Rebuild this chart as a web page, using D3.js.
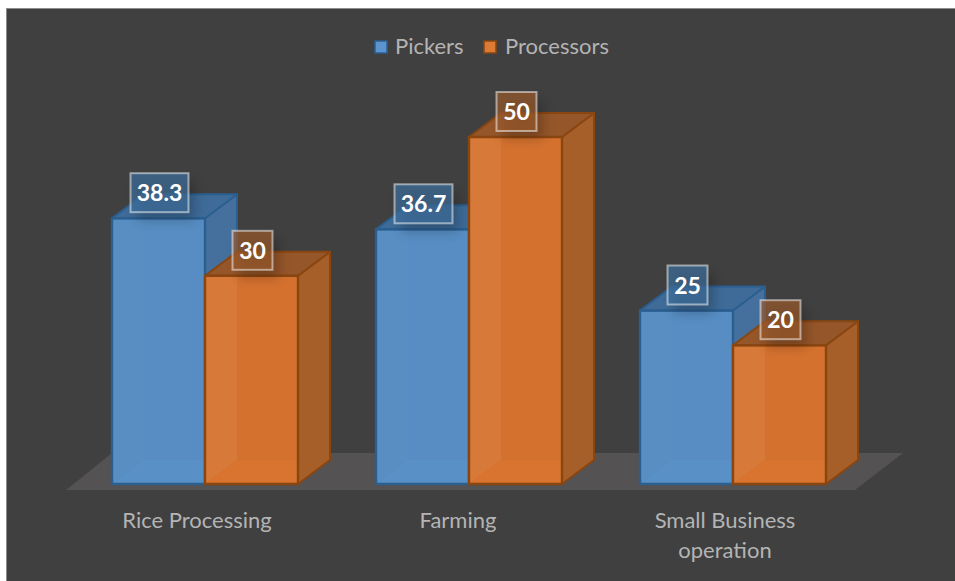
<!DOCTYPE html>
<html>
<head>
<meta charset="utf-8">
<script src="https://cdn.jsdelivr.net/npm/d3@7"></script>
<style>
html,body{margin:0;padding:0;background:#fff;}
svg{display:block;}
text{font-family:Lato,"Open Sans",sans-serif;}
</style>
</head>
<body>
<div id="chart"></div>
<script>
const categories = ["Rice Processing", "Farming", "Small Business operation"];
const seriesNames = ["Pickers", "Processors"];
const pickers = [38.3, 36.7, 25];
const processors = [30, 50, 20];

const W = 955, H = 581;
const depthX = 32, depthY = 24;
const palette = {
  Pickers:    {front:"#578dc3", strip:"#598ec3", floor:"#5990c6", side:"#45709d", top:"#3e6b98", edge:"#2b5f90", box:"#3f6f9c", swatch:"#5b94cf"},
  Processors: {front:"#d4712f", strip:"#d77938", floor:"#d8742f", side:"#a75f29", top:"#95562a", edge:"#8a4610", box:"#9a5a2c", swatch:"#dd7a33"}
};

const svg = d3.select("#chart").append("svg").attr("width", W).attr("height", H);
const defs = svg.append("defs");
defs.append("filter").attr("id","soft").attr("x","-40%").attr("y","-40%").attr("width","180%").attr("height","180%")
  .append("feGaussianBlur").attr("stdDeviation",6);

// Page frame and chart background
svg.append("rect").attr("x",6).attr("y",8).attr("width",W-6).attr("height",H-8).attr("fill","#8c8c8c");
svg.append("rect").attr("x",7).attr("y",9).attr("width",W-7).attr("height",H-9).attr("fill","#404040");

const x0 = d3.scaleBand().domain(categories).range([73,865]).paddingInner(78/264).paddingOuter(39/264);
const x1 = d3.scaleBand().domain(seriesNames).range([0,x0.bandwidth()]);
const y = d3.scaleLinear().domain([0,50]).range([484,137]);
const baseY = y(0);

// Floor of the 3D plot
svg.append("path")
  .attr("d", d3.line()([[66,490],[855,490],[903,453],[112,453]]) + "Z")
  .attr("fill","#545252");

const rows = seriesNames.flatMap((s,i) =>
  categories.map((c,j) => ({series:s, cat:c, value:(i===0?pickers:processors)[j]})));

const pts = a => d3.line()(a) + "Z";

svg.append("g").selectAll("g").data(rows).join("g").each(function(d){
  const g = d3.select(this), p = palette[d.series];
  const l = x0(d.cat) + x1(d.series), r = l + x1.bandwidth(), t = y(d.value), b = baseY;
  // front face
  g.append("path").attr("d",pts([[l,t],[r,t],[r,b],[l,b]])).attr("fill",p.front);
  // the rear corner showing through the translucent front
  g.append("path").attr("d",pts([[l,t],[l+depthX,t],[l+depthX,b-depthY],[l,b]])).attr("fill",p.strip);
  g.append("path").attr("d",pts([[l,b],[l+depthX,b-depthY],[r,b-depthY],[r,b]])).attr("fill",p.floor);
  // side and top faces
  g.append("path").attr("d",pts([[r,t],[r+depthX,t-depthY],[r+depthX,b-depthY],[r,b]]))
    .attr("fill",p.side).attr("stroke",p.edge).attr("stroke-width",2).attr("stroke-linejoin","round");
  g.append("path").attr("d",pts([[l,t],[l+depthX,t-depthY],[r+depthX,t-depthY],[r,t]]))
    .attr("fill",p.top).attr("stroke",p.edge).attr("stroke-width",2).attr("stroke-linejoin","round");
  g.append("path").attr("d",pts([[l,t],[r,t],[r,b],[l,b]]))
    .attr("fill","none").attr("stroke",p.edge).attr("stroke-width",2.4).attr("stroke-linejoin","round");
});

// Value callouts
svg.append("g").selectAll("g").data(rows).join("g").each(function(d){
  const g = d3.select(this), p = palette[d.series];
  const cx = x0(d.cat) + x1(d.series) + x1.bandwidth()/2 + 1, cy = y(d.value) - 25.5;
  const txt = String(d.value);
  const w = txt.length > 2 ? 58 : 40, h = 39;
  g.append("rect").attr("x",cx-w/2+6).attr("y",cy-h/2+8).attr("width",w).attr("height",h)
    .attr("fill","#000").attr("opacity",.22).attr("filter","url(#soft)");
  g.append("rect").attr("x",cx-w/2).attr("y",cy-h/2).attr("width",w).attr("height",h)
    .attr("fill",p.box).attr("fill-opacity",.7).attr("stroke","#fff").attr("stroke-opacity",.5).attr("stroke-width",2);
  g.append("text").attr("x",cx).attr("y",cy+8.5).attr("text-anchor","middle")
    .attr("font-size",23).attr("font-weight",700).attr("fill","#fff").text(txt);
});

// Category axis labels, wrapped by hand onto at most two lines
const wrapped = {"Small Business operation":["Small Business","operation"]};
const labelShift = {"Farming":-3};
svg.append("g").selectAll("text").data(categories).join("text")
  .attr("text-anchor","middle").attr("font-size",22).attr("fill","#b4b4b4")
  .each(function(c){
    const lines = wrapped[c] || [c];
    const cx = x0(c) + x0.bandwidth()/2 - 8 + (labelShift[c] || 0);
    d3.select(this).selectAll("tspan").data(lines).join("tspan")
      .attr("x",cx).attr("y",(l,i)=>528+i*29.5).text(l=>l);
  });

// Legend
const legendItems = [{name:"Pickers",sw:375,tx:395},{name:"Processors",sw:484,tx:505}];
const leg = svg.append("g").selectAll("g").data(legendItems).join("g");
leg.append("rect").attr("x",d=>d.sw).attr("y",41).attr("width",12).attr("height",12)
  .attr("fill",d=>palette[d.name].swatch).attr("stroke",d=>palette[d.name].edge).attr("stroke-width",1.5);
leg.append("text").attr("x",d=>d.tx).attr("y",54).attr("font-size",22).attr("fill","#b4b4b4").text(d=>d.name);
</script>
</body>
</html>
